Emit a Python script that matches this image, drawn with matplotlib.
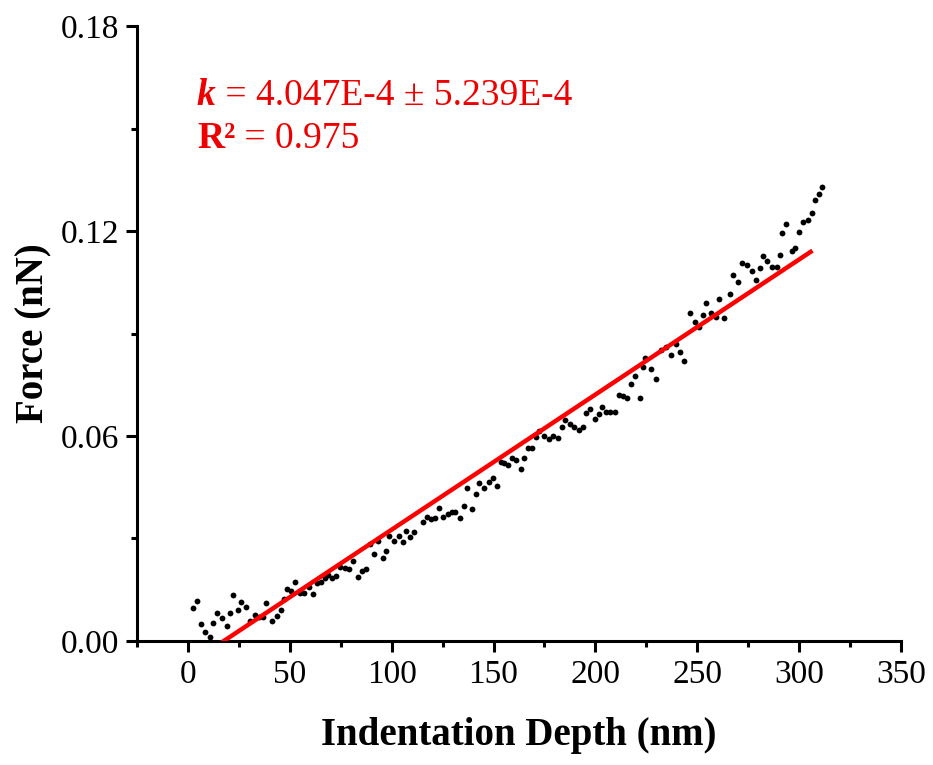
import numpy as np
import matplotlib
matplotlib.use("Agg")
import matplotlib.pyplot as plt
from matplotlib.ticker import MultipleLocator

plt.rcParams['font.family'] = ['Liberation Serif', 'DejaVu Serif']

# indentation depth (nm) and force (nN)
depth = [2.5, 4.4, 6.6, 8.6, 10.7, 12.5, 14.5, 16.7, 19.1, 20.9,
         22.2, 24.5, 26.1, 28.4, 30.7, 32.8, 34.8, 36.8, 38.4, 41.4,
         43.5, 45.5, 47.0, 48.6, 50.6, 52.5, 55.1, 57.1, 59.3, 61.4,
         63.4, 65.3, 67.3, 68.9, 70.9, 72.9, 74.8, 77.2, 79.1, 81.1,
         83.4, 85.4, 87.4, 89.3, 91.4, 93.4, 95.5, 97.2, 98.8, 101.1,
         103.4, 105.4, 107.0, 109.0, 111.0, 115.2, 117.2, 119.2, 121.1, 123.1,
         125.4, 127.4, 129.4, 131.3, 133.4, 135.3, 137.0, 139.5, 141.2, 142.9,
         145.4, 147.6, 149.5, 151.9, 153.5, 155.1, 157.1, 159.2, 161.2, 163.3,
         165.0, 166.9, 168.9, 170.6, 172.5, 174.8, 177.0, 179.2, 181.4, 183.4,
         185.3, 187.4, 189.6, 191.7, 193.9, 195.5, 197.4, 199.8, 201.7, 203.4,
         205.3, 207.3, 209.6, 211.4, 213.4, 215.4, 217.3, 219.3, 221.9, 223.2,
         224.4, 227.1, 229.8, 232.3, 234.7, 237.2, 239.4, 241.7, 243.7, 246.4,
         248.7, 251.0, 252.8, 254.5, 256.9, 259.2, 260.5, 263.3, 266.2, 267.7,
         270.2, 272.0, 274.3, 276.7, 278.9, 280.7, 282.0, 284.3, 286.8, 288.9,
         290.7, 291.7, 293.5, 296.3, 298.1, 299.7, 301.8, 304.3, 306.1, 307.7,
         309.6, 311.4]
force = [0.0096, 0.0118, 0.0050, 0.0027, 0.0011, 0.0052, 0.0083, 0.0068, 0.0045, 0.0081,
         0.0134, 0.0090, 0.0115, 0.0099, 0.0059, 0.0076, 0.0071, 0.0069, 0.0110, 0.0059,
         0.0074, 0.0091, 0.0123, 0.0151, 0.0147, 0.0174, 0.0141, 0.0141, 0.0159, 0.0137,
         0.0169, 0.0172, 0.0184, 0.0193, 0.0185, 0.0190, 0.0216, 0.0213, 0.0210, 0.0235,
         0.0187, 0.0206, 0.0210, 0.0283, 0.0255, 0.0293, 0.0244, 0.0264, 0.0307, 0.0292,
         0.0308, 0.0289, 0.0322, 0.0305, 0.0320, 0.0348, 0.0364, 0.0357, 0.0359, 0.0390,
         0.0362, 0.0372, 0.0378, 0.0378, 0.0360, 0.0395, 0.0449, 0.0387, 0.0430, 0.0462,
         0.0449, 0.0464, 0.0478, 0.0455, 0.0525, 0.0520, 0.0515, 0.0536, 0.0530, 0.0502,
         0.0537, 0.0566, 0.0566, 0.0597, 0.0615, 0.0601, 0.0591, 0.0601, 0.0594, 0.0626,
         0.0647, 0.0636, 0.0626, 0.0617, 0.0627, 0.0666, 0.0678, 0.0651, 0.0663, 0.0684,
         0.0669, 0.0669, 0.0669, 0.0720, 0.0718, 0.0712, 0.0751, 0.0776, 0.0710, 0.0802,
         0.0827, 0.0795, 0.0768, 0.0852, 0.0860, 0.0837, 0.0870, 0.0847, 0.0819, 0.0960,
         0.0934, 0.0918, 0.0953, 0.0988, 0.0959, 0.0948, 0.1001, 0.0946, 0.1016, 0.1071,
         0.1051, 0.1107, 0.1101, 0.1084, 0.1057, 0.1092, 0.1127, 0.1112, 0.1094, 0.1095,
         0.1129, 0.1193, 0.1220, 0.1141, 0.1149, 0.1198, 0.1226, 0.1232, 0.1252, 0.1291,
         0.1309, 0.1330]

# linear fit line end points
fit_x = [17.6, 305.6]
fit_y = [0.0, 0.1139]

fig = plt.figure(figsize=(9.33, 7.65), dpi=100)
ax = fig.add_axes([0.1468, 0.1621, 0.819, 0.8039])

ax.plot(depth, force, 'o', color='black', markersize=4.2, markeredgewidth=0, zorder=2)
ax.plot(fit_x, fit_y, '-', color='#ff0000', linewidth=3.2, zorder=3)

ax.set_xlim(-25, 350)
ax.set_ylim(0, 0.18)
ax.xaxis.set_major_locator(MultipleLocator(50))
ax.xaxis.set_minor_locator(MultipleLocator(25))
ax.yaxis.set_major_locator(MultipleLocator(0.06))
ax.yaxis.set_minor_locator(MultipleLocator(0.03))
ax.yaxis.set_major_formatter(plt.FuncFormatter(lambda v, p: '%.2f' % v))

for s in ['top', 'right']:
    ax.spines[s].set_visible(False)
for s in ['left', 'bottom']:
    ax.spines[s].set_linewidth(2.2)

ax.tick_params(which='major', direction='out', length=8, width=2.2, labelsize=24, pad=5)
ax.tick_params(which='minor', direction='out', length=4.5, width=2.2)

ax.set_xlabel('Indentation Depth (nm)', fontsize=28, fontweight='bold', labelpad=20)
ax.set_ylabel('Force (nN)', fontsize=28, fontweight='bold', labelpad=6)

# fit annotation, placed in pixels of the figure
red = '#ee0000'
ax_w = 0.819 * 933
ax_h = 0.8039 * 765
t1 = ax.text((197 - 137) / ax_w, (641 - 113) / ax_h, 'k', transform=ax.transAxes,
             fontsize=27, color=red, fontweight='bold', fontstyle='italic',
             va='bottom', ha='left')
ax.annotate(' = 4.047E-4 \u00b1 5.239E-4', xy=(1, 0), xycoords=t1, fontsize=27,
            color=red, va='bottom', ha='left')
t2 = ax.text((197 - 137) / ax_w, (641 - 156) / ax_h, 'R\u00b2', transform=ax.transAxes,
             fontsize=27, color=red, fontweight='bold', va='bottom', ha='left')
ax.annotate(' = 0.975', xy=(1, 0), xycoords=t2, fontsize=27, color=red,
            va='bottom', ha='left')

fig.savefig('out.png', dpi=100)
